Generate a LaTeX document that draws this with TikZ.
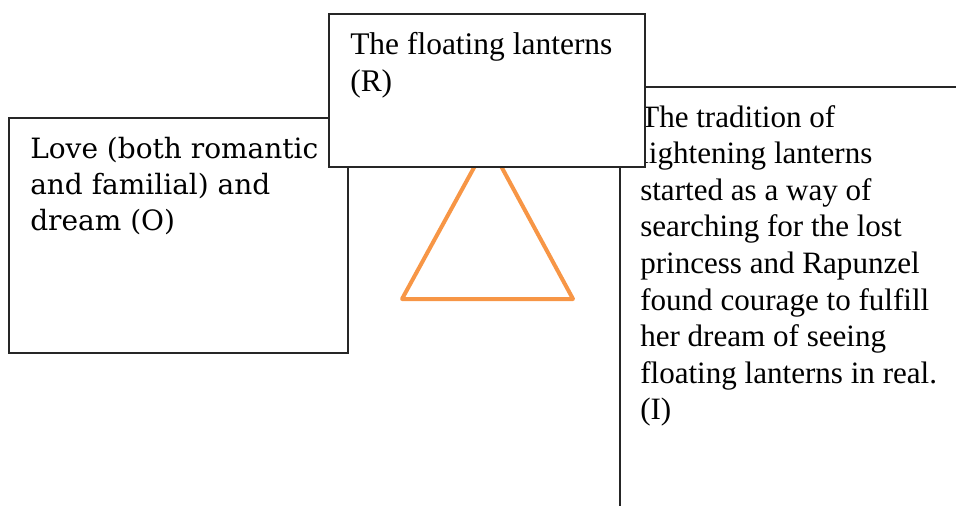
\documentclass[tikz,border=0pt]{standalone}
\usepackage{fontspec}
\setmainfont{Liberation Serif}
\newfontfamily\objfont{DejaVu Serif}
\usetikzlibrary{positioning}
\definecolor{lanternorange}{HTML}{F79646}

\begin{document}
\begin{tikzpicture}[x=0.75pt,y=-0.75pt,
    card/.style={draw=black!85, line width=0.8pt, fill=white},
    cardtext/.style={anchor=north west, align=left, inner sep=0pt,
      font=\fontsize{23.6}{27.9}\selectfont},
    sign/.style={draw=lanternorange, line width=3pt, line join=round}
  ]
  \useasboundingbox (0,0) rectangle (956,506);

  % Objekt
  \draw[card] (9,118) rectangle (348,353);
  \node[cardtext, font=\objfont\fontsize{21}{27}\selectfont] (objtext) at (30,137)
    {Love (both romantic\\and familial) and\\dream (O)};

  % Dreieck
  \coordinate (apex) at (488,142);
  \coordinate (baseL) at (402,299);
  \coordinate (baseR) at (573,299);
  \draw[sign] (apex) -- (baseL) -- (baseR) -- cycle;

  % Interpretant
  \coordinate (intTR) at (956,87);
  \coordinate (intTL) at (620,87);
  \coordinate (intBL) at (620,506);
  \draw[black!85, line width=0.8pt] (intTR) -- (intTL) -- (intBL);
  \node[cardtext, font=\fontsize{23.3}{27.45}\selectfont] (inttext) at (640,105)
    {The tradition of\\lightening lanterns\\started as a way of\\searching for the lost\\princess and Rapunzel\\found courage to fulfill\\her dream of seeing\\floating lanterns in real.\\(I)};

  % Zeichen
  \draw[card] (329,14) rectangle (645,167);
  \node[cardtext] (reptext) at (350,32) {The floating lanterns\\(R)};
\end{tikzpicture}
\end{document}
